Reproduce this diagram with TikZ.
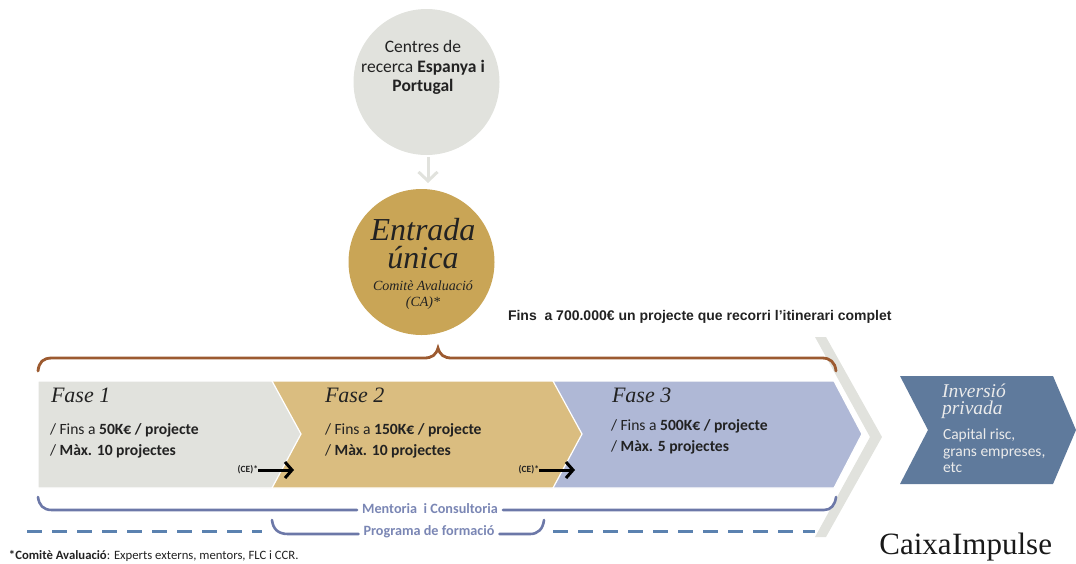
\documentclass[tikz,border=0pt]{standalone}
\usepackage{fontspec}
\setmainfont{Carlito}
\newfontfamily\serifit[ItalicFont=Liberation Serif Italic]{Liberation Serif}
\newfontfamily\arialf{Liberation Sans}
\usetikzlibrary{arrows.meta}
\definecolor{cgrey}{HTML}{E1E2DD}
\definecolor{cgold}{HTML}{C9A556}
\definecolor{ctan}{HTML}{DABD80}
\definecolor{cblue}{HTML}{AFB8D6}
\definecolor{cslate}{HTML}{5F7A9C}
\definecolor{cbrown}{HTML}{9C5A30}
\definecolor{cbrace}{HTML}{6C78A8}
\definecolor{cdash}{HTML}{5B82B0}
\definecolor{clabel}{HTML}{7A86B4}
\definecolor{ctext}{HTML}{222222}
\tikzset{
  txt/.style={inner sep=0pt,outer sep=0pt,text=ctext},
  phasetitle/.style={txt,anchor=west,font=\serifit\itshape\fontsize{22}{22}\selectfont},
  phasebody/.style={txt,anchor=north west,align=left,font=\fontsize{15.6}{21}\selectfont},
  phaseshape/.style={draw=white,line width=1.2pt,line join=miter},
  ce/.style={txt,font=\fontsize{9.5}{10}\selectfont\bfseries},
  cearrow/.style={black,line width=3pt,-{Straight Barb[length=7pt,width=16pt,line width=3pt]}},
  bracelabel/.style={txt,text=clabel,font=\fontsize{14.2}{15}\selectfont\bfseries},
  bracebrown/.style={cbrown,line width=2.8pt,line cap=round},
  braceblue/.style={cbrace,line width=2.6pt,line cap=round},
  dashline/.style={cdash,line width=3pt,dash pattern=on 15pt off 10pt},
  bubble/.style={circle,minimum size=146pt,inner sep=0pt,outer sep=0pt}
}
\begin{document}
\begin{tikzpicture}[x=1pt,y=-1pt]
\useasboundingbox (0,0) rectangle (1076,563);
% circles
\node[bubble,fill=cgrey] (c1) at (426.5,82) {};
\node[bubble,fill=cgold] (c2) at (421.5,262) {};
\node[txt,align=center,font=\fontsize{17.5}{19.5}\selectfont] (c1t) at (423,67.5) {Centres de\\recerca \textbf{Espanya i}\\\textbf{Portugal}};
\coordinate (a1) at (428,157);
\coordinate (a2) at (428,183);
\draw[cgrey,line width=3pt,-{Straight Barb[length=9pt,width=19pt,line width=3pt]}] (a1) -- (a2);
\node[txt,align=center,font=\serifit\itshape\fontsize{32}{28}\selectfont] (e1) at (423,244) {Entrada\\única};
\node[txt,align=center,font=\serifit\itshape\fontsize{14}{16}\selectfont] (e3) at (423,295) {Comitè Avaluació\\(CA)*};
\node[txt,anchor=west,font=\arialf\bfseries\fontsize{14}{14}\selectfont] (tot) at (508,316.5) {Fins\ \ a 700.000€ un projecte que recorri l’itinerari complet};
% grey chevron
\fill[cgrey] (815,337) -- (826,337) -- (882,437) -- (826,537) -- (815,537) -- (870,437) -- cycle;
% phases
\draw[phaseshape,fill=cblue] (540,381) -- (834,381) -- (862,434) -- (834,488) -- (540,488) -- cycle;
\draw[phaseshape,fill=ctan] (260,381) -- (553,381) -- (582,434) -- (553,488) -- (260,488) -- cycle;
\draw[phaseshape,fill=cgrey] (38,381) -- (272,381) -- (301,434) -- (272,488) -- (38,488) -- cycle;
\fill[cslate] (900,376) -- (1053,376) -- (1076,430) -- (1053,484) -- (900,484) -- (928,430) -- cycle;
% phase texts
\node[phasetitle] (f1) at (51,395) {Fase 1};
\node[phasebody] (f1t) at (50,423.5) {/ Fins a \textbf{50K€ / projecte}\\/ \textbf{Màx. 10 projectes}};
\node[phasetitle] (f2) at (325,395) {Fase 2};
\node[phasebody] (f2t) at (325,423.5) {/ Fins a \textbf{150K€ / projecte}\\/ \textbf{Màx. 10 projectes}};
\node[phasetitle] (f3) at (612,395) {Fase 3};
\node[phasebody] (f3t) at (611,419.5) {/ Fins a \textbf{500K€ / projecte}\\/ \textbf{Màx. 5 projectes}};
\node[txt,anchor=west,text=white!92!black,font=\serifit\itshape\fontsize{19.5}{17}\selectfont,align=left] (inv) at (942,401) {Inversió\\privada};
\node[txt,anchor=north west,text=white!92!black,align=left,font=\fontsize{15.5}{16.5}\selectfont] (invt) at (943,429) {Capital risc,\\grans empreses,\\etc};
% CE arrows
\node[ce,anchor=east] (ce1) at (258,470) {(CE)*};
\coordinate (ce1e) at (294,470);
\draw[cearrow] (ce1) -- (ce1e);
\node[ce,anchor=east] (ce2) at (539,470) {(CE)*};
\coordinate (ce2e) at (575,470);
\draw[cearrow] (ce2) -- (ce2e);
% brown brace
\draw[bracebrown] (38,371) .. controls (39,362) and (43,358) .. (52,358) -- (424,358) .. controls (432,358) and (436,355) .. (438,348) .. controls (440,355) and (444,358) .. (452,358) -- (822,358) .. controls (830,358) and (835,362) .. (836,371);
% blue braces
\node[bracelabel,outer sep=5pt] (ment) at (430,509) {Mentoria\ \ i Consultoria};
\node[bracelabel,outer sep=5pt] (prog) at (429,532) {Programa de formació};
\draw[braceblue] (38,497) .. controls (39,505) and (43,510) .. (52,510) -- (ment.west |- 52,510);
\draw[braceblue] (ment.east |- 52,510) -- (824,510) .. controls (831,510) and (835,505) .. (836,497);
\draw[braceblue] (272,520) .. controls (273,529) and (278,534) .. (288,534) -- (prog.west |- 288,534);
\draw[braceblue] (prog.east |- 288,534) -- (530,534) .. controls (538,534) and (543,529) .. (544,520);
\coordinate (d1a) at (27,531); \coordinate (d1b) at (262,531);
\coordinate (d2a) at (553,531); \coordinate (d2b) at (815,531);
\draw[dashline] (d1a) -- (d1b);
\draw[dashline] (d2a) -- (d2b);
% footnote and logo
\node[txt,anchor=west,font=\fontsize{12.7}{14}\selectfont] (foot) at (9,556) {\textbf{*Comitè Avaluació}: Experts externs, mentors, FLC i CCR.};
\node[txt,anchor=east,text=black!90,font=\serifit\fontsize{31}{31}\selectfont] (logo) at (1052,547) {Caixa\kern0.5pt Impulse};
\end{tikzpicture}
\end{document}
